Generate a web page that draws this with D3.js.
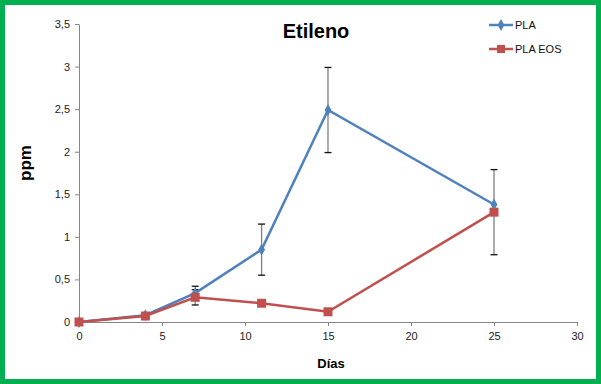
<!DOCTYPE html>
<html>
<head>
<meta charset="utf-8">
<script src="https://cdnjs.cloudflare.com/ajax/libs/d3/7.8.5/d3.min.js"></script>
<style>
  body { margin: 0; background: #fff; }
  svg { display: block; }
</style>
</head>
<body>
<svg id="chart"></svg>
<script>
var W = 601, H = 384;

// data
var days = [0, 4, 7, 11, 15, 25];
var pla = [0, 0.08, 0.34, 0.85, 2.49, 1.38];
var plaErr = [0, 0, 0.08, 0.3, 0.5, 0];
var plaEos = [0, 0.07, 0.29, 0.22, 0.12, 1.29];
var plaEosErr = [0, 0, 0.09, 0, 0, 0.5];
var xTicks = [0, 5, 10, 15, 20, 25, 30];
var yTicks = [0, 0.5, 1, 1.5, 2, 2.5, 3, 3.5];

var blue = "#4f81bd", red = "#c0504d", axisCol = "#868686";

var svg = d3.select("#chart").attr("width", W).attr("height", H);

// green frame
svg.append("rect").attr("x", 0).attr("y", 0).attr("width", W).attr("height", H).attr("fill", "#00b050");
svg.append("rect").attr("x", 5).attr("y", 5).attr("width", W - 10).attr("height", H - 10).attr("fill", "#fff");

var x = d3.scaleLinear().domain([0, 30]).range([79, 577]);
var y = d3.scaleLinear().domain([0, 3.5]).range([322, 24]);

var fmt = function (d) { return String(d).replace(".", ","); };

// axes
var xAxis = svg.append("g").attr("transform", "translate(0," + y(0) + ")")
  .call(d3.axisBottom(x).tickValues(xTicks).tickSize(4).tickPadding(6).tickSizeOuter(0));
var yAxis = svg.append("g").attr("transform", "translate(" + x(0) + ",0)")
  .call(d3.axisLeft(y).tickValues(yTicks).tickFormat(fmt).tickSize(4).tickPadding(5).tickSizeOuter(0));

[xAxis, yAxis].forEach(function (a) {
  a.select(".domain").attr("stroke", axisCol).attr("stroke-width", 1);
  a.selectAll(".tick line").attr("stroke", axisCol);
  a.selectAll(".tick text").attr("fill", "#222").style("font-family", "Liberation Sans, Arial, sans-serif").style("font-size", "11px");
});

// titles
svg.append("text").attr("x", 316).attr("y", 38).attr("text-anchor", "middle")
  .style("font-family", "Liberation Sans, Arial, sans-serif").style("font-weight", "bold").style("font-size", "20px")
  .text("Etileno");
svg.append("text").attr("transform", "translate(31,163) rotate(-90)").attr("text-anchor", "middle")
  .style("font-family", "Liberation Sans, Arial, sans-serif").style("font-weight", "bold").style("font-size", "17px")
  .text("ppm");
svg.append("text").attr("x", 331).attr("y", 368).attr("text-anchor", "middle")
  .style("font-family", "Liberation Sans, Arial, sans-serif").style("font-weight", "bold").style("font-size", "13px")
  .text("Días");

function series(vals, errs) {
  return days.map(function (d, i) { return { x: d, y: vals[i], e: errs[i] }; });
}
var s1 = series(pla, plaErr), s2 = series(plaEos, plaEosErr);

var line = d3.line().x(function (d) { return x(d.x); }).y(function (d) { return y(d.y); });

function drawErr(data) {
  var g = svg.append("g");
  data.filter(function (d) { return d.e > 0; }).forEach(function (d) {
    g.append("line").attr("x1", x(d.x)).attr("x2", x(d.x))
      .attr("y1", y(d.y + d.e)).attr("y2", y(d.y - d.e))
      .attr("stroke", "#7f7f7f").attr("stroke-width", 1.3);
    [d.y + d.e, d.y - d.e].forEach(function (v) {
      g.append("line").attr("x1", x(d.x) - 3.5).attr("x2", x(d.x) + 3.5)
        .attr("y1", y(v)).attr("y2", y(v)).attr("stroke", "#111").attr("stroke-width", 1.3);
    });
  });
}

drawErr(s1);
drawErr(s2);

svg.append("path").attr("d", line(s1)).attr("fill", "none").attr("stroke", blue).attr("stroke-width", 2.5);
svg.append("path").attr("d", line(s2)).attr("fill", "none").attr("stroke", red).attr("stroke-width", 2.5);

var diamond = d3.symbol().type(d3.symbolDiamond).size(40);
svg.selectAll(".m1").data(s1).enter().append("path")
  .attr("transform", function (d) { return "translate(" + x(d.x) + "," + y(d.y) + ")"; })
  .attr("d", diamond).attr("fill", blue);
svg.selectAll(".m2").data(s2).enter().append("rect")
  .attr("x", function (d) { return x(d.x) - 4.5; }).attr("y", function (d) { return y(d.y) - 4.5; })
  .attr("width", 9).attr("height", 9).attr("fill", red);

// legend
var legend = [{ name: "PLA", col: blue, y: 25 }, { name: "PLA EOS", col: red, y: 49 }];
legend.forEach(function (l, i) {
  svg.append("line").attr("x1", 489).attr("x2", 513).attr("y1", l.y).attr("y2", l.y)
    .attr("stroke", l.col).attr("stroke-width", 2.5);
  if (i === 0) {
    svg.append("path").attr("transform", "translate(501," + l.y + ")").attr("d", diamond).attr("fill", l.col);
  } else {
    svg.append("rect").attr("x", 497).attr("y", l.y - 4).attr("width", 8).attr("height", 8).attr("fill", l.col);
  }
  svg.append("text").attr("x", 515).attr("y", l.y + 4).attr("fill", "#111")
    .style("font-family", "Liberation Sans, Arial, sans-serif").style("font-size", "11px")
    .text(l.name);
});
</script>
</body>
</html>
